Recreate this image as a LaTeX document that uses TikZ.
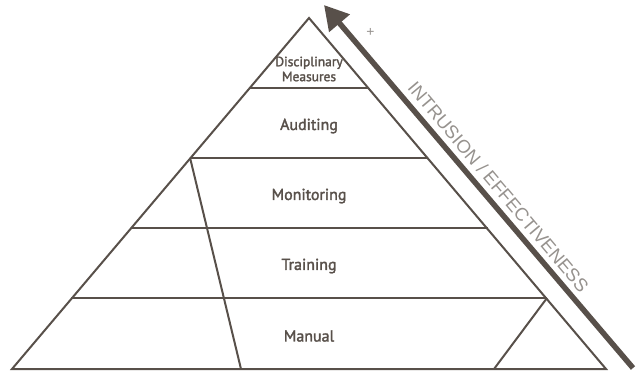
\documentclass[tikz,border=0pt]{standalone}
\usepackage{fontspec}
\setmainfont{PT Sans}[FakeBold=2]
\newfontfamily\thinfont{Liberation Sans}
\usetikzlibrary{arrows.meta}
\definecolor{pyr}{RGB}{88,80,74}
\definecolor{lgray}{RGB}{150,146,142}
\begin{document}
\begin{tikzpicture}[x=1bp,y=-1bp,
  edge/.style={draw=pyr,line width=2bp,line join=miter},
  lvl/.style={text=pyr,font=\fontsize{16}{17}\selectfont,inner sep=0pt},
  small/.style={text=pyr,font=\fontsize{13.5}{15}\selectfont,inner sep=0pt,align=center}]
\useasboundingbox (0,0) rectangle (636,371);
% pyramid corners
\coordinate (apex) at (309,18);
\coordinate (bl) at (12,369);
\coordinate (br) at (606,369);
% level boundaries (left / right)
\coordinate (l1) at (249.8,88);  \coordinate (r1) at (368.2,88);
\coordinate (l2) at (190.1,158); \coordinate (r2) at (427.9,158);
\coordinate (l3) at (130.5,228); \coordinate (r3) at (487.5,228);
\coordinate (l4) at (71.0,298);  \coordinate (r4) at (547.0,298);
\coordinate (ib) at (241,369);
\coordinate (rb) at (494,369);
\draw[edge] (apex) -- (bl) -- (br) -- cycle;
\draw[edge] (l1) -- (r1);
\draw[edge] (l2) -- (r2);
\draw[edge] (l3) -- (r3);
\draw[edge] (l4) -- (r4);
\draw[edge] (l2) -- (ib);
\draw[edge] (r4) -- (rb);
% labels
\node[small] (dm) at (309,69) {Disciplinary\\Measures};
\node[lvl] (au) at (309,126) {Auditing};
\node[lvl] (mo) at (309,196) {Monitoring};
\node[lvl] (tr) at (309,266) {Training};
\node[lvl] (ma) at (309,336) {Manual};
% arrow
\coordinate (as) at (633,368);
\coordinate (ae) at (324,5);
\draw[pyr,line width=5.5bp,-{Triangle[length=24bp,width=26bp]}] (as) -- (ae);
\node[text=lgray,font=\thinfont\fontsize{14}{14}\selectfont,inner sep=0pt] (plus) at (370.5,32) {+};
\node[text=lgray,rotate=-49.8,inner sep=0pt] (ie) at (498.5,187)
  {\scalebox{1.0}[1]{\thinfont\fontsize{18.5}{18.5}\selectfont INTRUSION / EFFECTIVENESS}};
\end{tikzpicture}
\end{document}
